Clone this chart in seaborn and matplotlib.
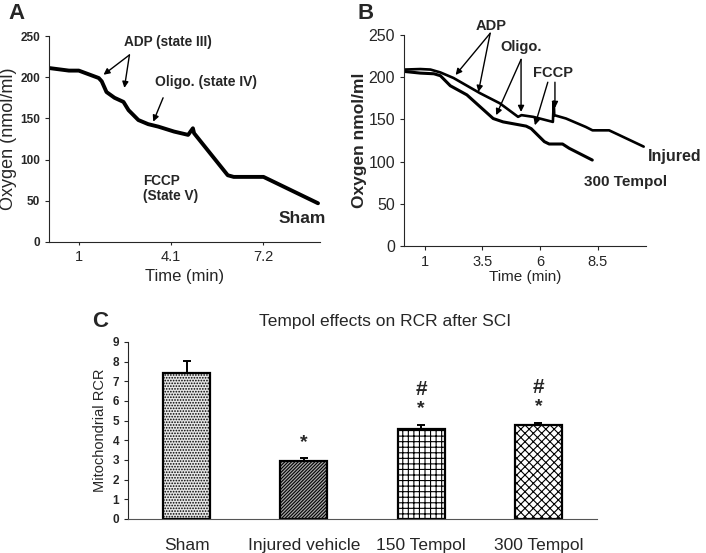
import matplotlib
matplotlib.use("Agg")
import matplotlib.pyplot as plt
from matplotlib import font_manager
import seaborn as sns

# --- Panel A: sham oxygen trace ---
sham_t = [0.03, 0.67, 1.0, 1.67, 1.77, 1.93, 2.2, 2.5, 2.67, 3.0, 3.33, 3.67,
          4.2, 4.67, 4.83, 4.87, 6.0, 6.2, 7.2, 7.43, 9.03]
sham_o2 = [211, 208, 208, 199, 195, 182, 175, 170, 160, 148, 143, 140,
           134, 130, 138, 132, 81, 79, 79, 75, 47]
a_ticks = [1, 4.1, 7.2]

# --- Panel B: injured vs 300 Tempol traces ---
injured_t = [0.1, 0.81, 1.25, 1.68, 2.25, 3.4, 4.26, 5.05, 5.2, 5.7, 5.99,
             6.56, 6.6, 6.62, 7.13, 7.99, 8.28, 9.0, 9.43, 10.5]
injured_o2 = [209, 209.6, 209, 205.6, 199, 181, 169, 153, 155, 153, 151,
              147, 171, 155, 151, 141, 137, 137, 131.5, 117.7]
tempol_t = [0.1, 0.81, 1.4, 1.68, 2.11, 2.83, 3.4, 3.97, 4.4, 5.4, 5.62,
            6.19, 6.4, 6.98, 7.27, 8.27]
tempol_o2 = [206.8, 204.8, 204, 201.7, 189.8, 179, 165, 151, 147, 142, 139,
             123.6, 120.8, 120.8, 115.7, 101.8]
b_ticks = [1, 3.5, 6, 8.5]

# --- Panel C: RCR bars ---
groups = ["Sham", "Injured vehicle", "150 Tempol", "300 Tempol"]
rcr_mean = [7.41, 2.94, 4.58, 4.76]
rcr_err = [0.6, 0.16, 0.21, 0.14]
vs_sham = [False, True, True, True]      # "*"
vs_injured = [False, False, True, True]  # "#"

sns.set_style("ticks")
names = {f.name for f in font_manager.fontManager.ttflist}
narrow = "Liberation Sans Narrow" if "Liberation Sans Narrow" in names else "Liberation Sans"
plt.rcParams["font.family"] = ["Liberation Sans", "DejaVu Sans"]
plt.rcParams["hatch.linewidth"] = 0.8

fig = plt.figure(figsize=(7.06, 5.53), dpi=100)
arrow = dict(arrowstyle="-|>", color="black", lw=1, mutation_scale=9,
             shrinkA=0, shrinkB=0)

# ---------------- A ----------------
ax_a = fig.add_axes([0.0694, 0.5624, 0.384, 0.3725])
sns.lineplot(x=sham_t, y=sham_o2, ax=ax_a, color="black", linewidth=2.8,
             sort=False, estimator=None)
ax_a.set_xlim(0, 9.1)
ax_a.set_ylim(0, 250)
ax_a.set_xticks(a_ticks)
ax_a.set_xticklabels([str(t) for t in a_ticks])
ax_a.set_yticks(range(0, 251, 50))
ax_a.tick_params(axis="y", labelsize=8.5, length=3)
ax_a.tick_params(axis="x", labelsize=10.5, length=2)
for lbl in ax_a.get_yticklabels():
    lbl.set_fontweight("bold")
ax_a.set_xlabel("Time (min)", fontsize=12, labelpad=4)
ax_a.set_ylabel("Oxygen (nmol/ml)", fontsize=13, labelpad=2)
sns.despine(ax=ax_a)

ax_a.text(4.0, 243, "ADP (state III)", ha="center", va="center",
          fontsize=9.8, fontweight="bold")
ax_a.annotate("", xy=(1.83, 203), xytext=(2.7, 227), arrowprops=arrow)
ax_a.annotate("", xy=(2.53, 187), xytext=(2.7, 227), arrowprops=arrow)
ax_a.text(5.27, 194, "Oligo. (state IV)", ha="center", va="center",
          fontsize=10, fontweight="bold")
ax_a.annotate("", xy=(3.5, 146), xytext=(3.83, 175), arrowprops=arrow)
ax_a.text(3.17, 65, "FCCP\n(State V)", ha="left", va="center",
          fontsize=9.8, fontweight="bold", linespacing=1.1)
ax_a.text(9.3, 29, "Sham", ha="right", va="center", fontsize=12.5,
          fontweight="bold", clip_on=False)

# ---------------- B ----------------
ax_b = fig.add_axes([0.5722, 0.5552, 0.3428, 0.3816])
sns.lineplot(x=injured_t, y=injured_o2, ax=ax_b, color="black", linewidth=1.9,
             sort=False, estimator=None)
sns.lineplot(x=tempol_t, y=tempol_o2, ax=ax_b, color="black", linewidth=2.2,
             sort=False, estimator=None)
ax_b.set_xlim(0.1, 10.6)
ax_b.set_ylim(0, 250)
ax_b.set_xticks(b_ticks)
ax_b.set_xticklabels([str(t) for t in b_ticks])
ax_b.set_yticks(range(0, 251, 50))
ax_b.tick_params(axis="y", labelsize=11.5, length=3)
ax_b.tick_params(axis="x", labelsize=10.5, length=3)
ax_b.set_xlabel("Time (min)", fontsize=11, labelpad=1)
ax_b.set_ylabel("Oxygen nmol/ml", fontsize=12.5, fontweight="bold", labelpad=1)
sns.despine(ax=ax_b)

ax_b.text(3.89, 261, "ADP", ha="center", va="center", fontsize=10.5,
          fontweight="bold", clip_on=False)
ax_b.annotate("", xy=(2.34, 202.6), xytext=(3.84, 252), arrowprops=arrow)
ax_b.annotate("", xy=(3.33, 182.5), xytext=(3.84, 252), arrowprops=arrow)
ax_b.text(5.18, 236, "Oligo.", ha="center", va="center", fontsize=10.5,
          fontweight="bold")
ax_b.annotate("", xy=(4.10, 155), xytext=(5.18, 221), arrowprops=arrow)
ax_b.annotate("", xy=(5.18, 158.8), xytext=(5.18, 221), arrowprops=arrow)
ax_b.text(6.56, 205, "FCCP", ha="center", va="center", fontsize=10.5,
          fontweight="bold")
ax_b.annotate("", xy=(5.78, 143), xytext=(6.34, 194), arrowprops=arrow)
ax_b.annotate("", xy=(6.65, 163.5), xytext=(6.65, 194), arrowprops=arrow)
ax_b.text(13.0, 105.5, "Injured", ha="right", va="center", fontsize=11.5,
          fontweight="bold", clip_on=False)
ax_b.text(9.7, 76, "300 Tempol", ha="center", va="center", fontsize=11,
          fontweight="bold")

# ---------------- C ----------------
ax_c = fig.add_axes([0.1813, 0.0615, 0.6643, 0.3201])
sns.barplot(x=groups, y=rcr_mean, ax=ax_c, color="white", width=0.4,
            edgecolor="black", linewidth=1.6, errorbar=None)
hatches = ["......", "//////////", "+++", "xxxx"]
faces = ["#e6e6e6", "#a8a8a8", "white", "white"]
for patch, h, fc in zip(ax_c.patches, hatches, faces):
    patch.set_hatch(h)
    patch.set_facecolor(fc)
ax_c.errorbar(range(len(groups)), rcr_mean,
              yerr=[[0] * len(groups), rcr_err], fmt="none", ecolor="black",
              elinewidth=1.4, capsize=3, capthick=1.4)
for i, (m, e) in enumerate(zip(rcr_mean, rcr_err)):
    if vs_sham[i]:
        ax_c.text(i, m + e + 0.8, "*", ha="center", va="center",
                  fontsize=14, fontweight="bold")
    if vs_injured[i]:
        ax_c.text(i, m + e + 1.8, "#", ha="center", va="center",
                  fontsize=15, fontweight="bold")
ax_c.set_xlim(-0.5, 3.5)
ax_c.set_ylim(0, 9)
ax_c.set_yticks(range(0, 10))
ax_c.tick_params(axis="y", labelsize=8.5, length=3)
ax_c.tick_params(axis="x", length=0, pad=14)
for lbl in ax_c.get_yticklabels():
    lbl.set_fontweight("bold")
    lbl.set_family([narrow, "DejaVu Sans"])
for lbl in ax_c.get_xticklabels():
    lbl.set_fontsize(12.5)
    lbl.set_family([narrow, "DejaVu Sans"])
ax_c.set_ylabel("Mitochondrial RCR", fontsize=10.5, labelpad=4)
ax_c.spines["bottom"].set_color("#555555")
sns.despine(ax=ax_c)
fig.text(0.545, 0.418, "Tempol effects on RCR after SCI", ha="center",
         va="center", fontsize=12.5, family=[narrow, "DejaVu Sans"])

# panel letters
fig.text(0.012, 0.975, "A", fontsize=16, fontweight="bold", va="center")
fig.text(0.507, 0.975, "B", fontsize=16, fontweight="bold", va="center")
fig.text(0.131, 0.418, "C", fontsize=16, fontweight="bold", va="center")

fig.savefig("out.png", dpi=100)
